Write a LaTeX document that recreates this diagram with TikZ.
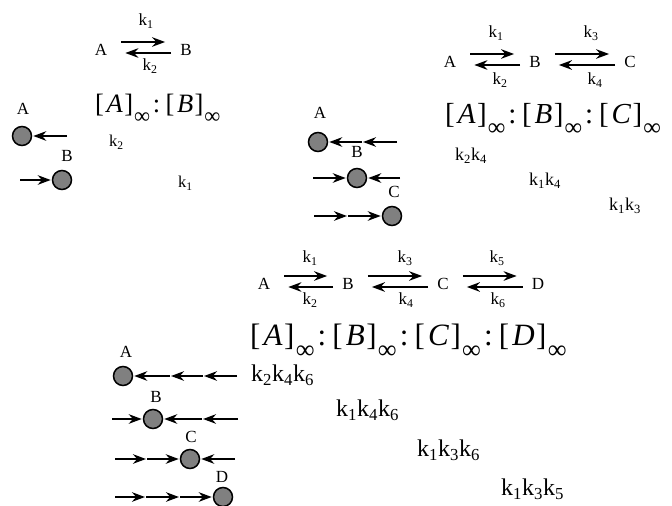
\documentclass[tikz,border=0pt]{standalone}
\usepackage{fontspec}
\setmainfont{Liberation Serif}
\usetikzlibrary{arrows.meta}
\definecolor{ballgray}{HTML}{808080}

\newcommand{\kk}[1]{k\textsubscript{#1}}
\newcommand{\conc}[1]{[\kern0.1em\textit{#1}\kern0.05em]\kern0.04em\raisebox{-0.42em}{\scalebox{0.85}{∞}}}
\newcommand{\sep}{\kern0.1em:\kern0.2em}

\tikzset{
  lbl/.style={inner sep=0pt,font=\fontsize{17}{17}\selectfont},
  rate/.style={inner sep=0pt,anchor=west,font=\fontsize{#1}{#1}\selectfont},
  ratio/.style={inner sep=0pt,anchor=base west,font=\fontsize{#1}{#1}\selectfont},
  ball/.style={circle,draw,line width=1.5pt,fill=ballgray,minimum size=19pt,inner sep=0pt},
  push/.style={line width=2.3pt,-{Stealth[length=13pt,width=9.5pt]},shorten >=1pt},
}

% two-way step between two species nodes
\newcommand{\twoway}[2]{%
  \draw[push] ([xshift=14pt,yshift=8pt]#1.east) -- ([xshift=-14pt,yshift=8pt]#2.west);
  \draw[push] ([xshift=-9pt,yshift=-3pt]#2.west) -- ([xshift=17pt,yshift=-3pt]#1.east);
}

\begin{document}
\begin{tikzpicture}[x=1pt,y=-1pt]
    \useasboundingbox (0,0) rectangle (672,506);

    % A <-> B
    \node[lbl] (a1) at (101,50) {A};
    \node[lbl] (b1) at (186,50) {B};
    \twoway{a1}{b1}
    \node[lbl] (k1a) at (146,21) {\kk{1}};
    \node[lbl] (k2a) at (150,66) {\kk{2}};
    \node[ratio=26.5] (ratio1) at (95,112) {\conc{A}\sep\conc{B}};
    \node[ball] (ballA1) at (22,136) {};
    \node[lbl] (tagA1) at (23,109) {A};
    \coordinate (inA1) at (67,136);
    \draw[push] (inA1) -- (ballA1);
    \node[ball] (ballB1) at (62,180) {};
    \node[lbl] (tagB1) at (67,156) {B};
    \coordinate (inB1) at (20,180);
    \draw[push] (inB1) -- (ballB1);
    \node[rate=16.5] (pA1) at (109,142) {\kk{2}};
    \node[rate=16.5] (pB1) at (178,183) {\kk{1}};

    % A <-> B <-> C
    \node[lbl] (a2) at (450,62) {A};
    \node[lbl] (b2) at (535,62) {B};
    \node[lbl] (c2) at (630,62) {C};
    \twoway{a2}{b2}
    \twoway{b2}{c2}
    \node[lbl] (k1b) at (496,33) {\kk{1}};
    \node[lbl] (k3b) at (591,33) {\kk{3}};
    \node[lbl] (k2b) at (500,80) {\kk{2}};
    \node[lbl] (k4b) at (595,80) {\kk{4}};
    \node[ratio=29] (ratio2) at (445,123) {\conc{A}\sep\conc{B}\sep\conc{C}};
    \node[rate=18] (pA2) at (455,156) {\kk{2}\kk{4}};
    \node[rate=18] (pB2) at (529,181) {\kk{1}\kk{4}};
    \node[rate=18] (pC2) at (609,206) {\kk{1}\kk{3}};

    \node[ball] (ballA2) at (318,142) {};
    \node[lbl] (tagA2) at (320,113) {A};
    \coordinate (a2in0) at (397,142);
    \coordinate (a2in1) at (362,142);
    \draw[push] (a2in0) -- (a2in1);
    \draw[push] (a2in1) -- (ballA2);
    \node[ball] (ballB2) at (357,178) {};
    \node[lbl] (tagB2) at (357,152) {B};
    \coordinate (b2inL) at (313,178);
    \coordinate (b2inR) at (400,178);
    \draw[push] (b2inL) -- (ballB2);
    \draw[push] (b2inR) -- (ballB2);
    \node[ball] (ballC2) at (392,216) {};
    \node[lbl] (tagC2) at (394,192) {C};
    \coordinate (c2in0) at (314,216);
    \coordinate (c2in1) at (348,216);
    \draw[push] (c2in0) -- (c2in1);
    \draw[push] (c2in1) -- (ballC2);

    % A <-> B <-> C <-> D
    \node[lbl] (a3) at (264,284) {A};
    \node[lbl] (b3) at (348,284) {B};
    \node[lbl] (c3) at (443,284) {C};
    \node[lbl] (d3) at (538,284) {D};
    \twoway{a3}{b3}
    \twoway{b3}{c3}
    \twoway{c3}{d3}
    \node[lbl] (k1c) at (310,258) {\kk{1}};
    \node[lbl] (k3c) at (405,258) {\kk{3}};
    \node[lbl] (k5c) at (497,258) {\kk{5}};
    \node[lbl] (k2c) at (310,300) {\kk{2}};
    \node[lbl] (k4c) at (406,300) {\kk{4}};
    \node[lbl] (k6c) at (498,300) {\kk{6}};
    \node[ratio=31] (ratio3) at (250,345) {\conc{A}\sep\conc{B}\sep\conc{C}\sep\conc{D}};
    \node[rate=24] (pA3) at (251,375) {\kk{2}\kk{4}\kk{6}};
    \node[rate=24] (pB3) at (336,410) {\kk{1}\kk{4}\kk{6}};
    \node[rate=24] (pC3) at (417,450) {\kk{1}\kk{3}\kk{6}};
    \node[rate=24] (pD3) at (501,489) {\kk{1}\kk{3}\kk{5}};

    \node[ball] (ballA3) at (123,376) {};
    \node[lbl] (tagA3) at (126,352) {A};
    \coordinate (a3in0) at (237,376);
    \coordinate (a3in1) at (203,376);
    \coordinate (a3in2) at (170,376);
    \draw[push] (a3in0) -- (a3in1);
    \draw[push] (a3in1) -- (a3in2);
    \draw[push] (a3in2) -- (ballA3);
    \node[ball] (ballB3) at (153,419) {};
    \node[lbl] (tagB3) at (156,397) {B};
    \coordinate (b3inL) at (112,419);
    \coordinate (b3in0) at (238,419);
    \coordinate (b3in1) at (202,419);
    \draw[push] (b3inL) -- (ballB3);
    \draw[push] (b3in0) -- (b3in1);
    \draw[push] (b3in1) -- (ballB3);
    \node[ball] (ballC3) at (190,459) {};
    \node[lbl] (tagC3) at (191,437) {C};
    \coordinate (c3in0) at (115,459);
    \coordinate (c3in1) at (147,459);
    \coordinate (c3inR) at (235,459);
    \draw[push] (c3in0) -- (c3in1);
    \draw[push] (c3in1) -- (ballC3);
    \draw[push] (c3inR) -- (ballC3);
    \node[ball] (ballD3) at (223,497) {};
    \node[lbl] (tagD3) at (222,477) {D};
    \coordinate (d3in0) at (115,497);
    \coordinate (d3in1) at (146,497);
    \coordinate (d3in2) at (180,497);
    \draw[push] (d3in0) -- (d3in1);
    \draw[push] (d3in1) -- (d3in2);
    \draw[push] (d3in2) -- (ballD3);
  \end{tikzpicture}
\end{document}
